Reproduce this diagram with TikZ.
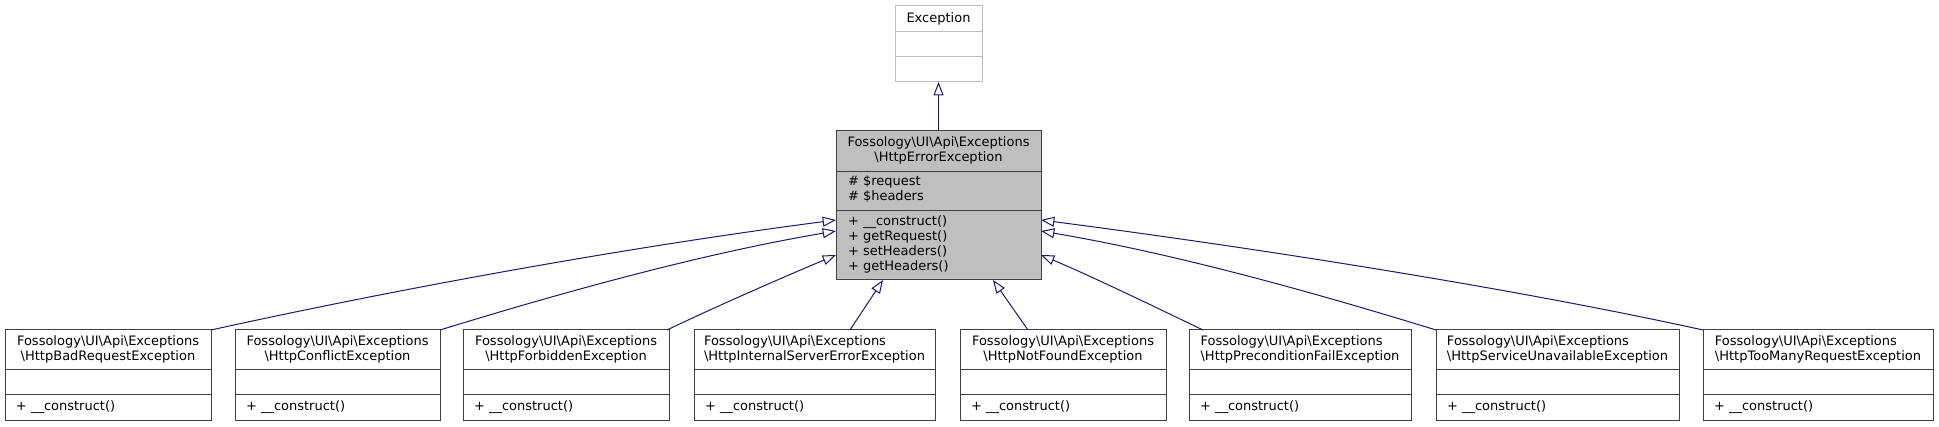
\documentclass[tikz,border=0pt]{standalone}
\usepackage{fontspec}
\setmainfont{DejaVu Sans}
\usetikzlibrary{arrows.meta,calc}
\definecolor{edgeblue}{HTML}{191970}
\definecolor{boxgray}{HTML}{BFBFBF}
\definecolor{darkline}{HTML}{404040}
\definecolor{lightline}{HTML}{BFBFBF}
\newcommand\bs{\textbackslash}
\newcommand\subcls[5]{%
  \node[clsbox, minimum width={(#3-#2)*0.75pt}, minimum height={91*0.75pt}] (#1) at (#2,330) {};
  \draw[sepline] (#2,370) -- (#3,370) (#2,395) -- (#3,395);
  \node[txt, align=#4] (#1-t) at ({(#2+#3)/2},349) {Fossology\bs UI\bs Api\bs Exceptions\\\bs #5};
  \node[txt, anchor=west] (#1-m) at (#2+11,407.5) {+ \_\_construct()};
}
\begin{document}
\begin{tikzpicture}[x=0.75pt,y=-0.75pt,
  font=\fontsize{9.75pt}{11.25pt}\selectfont,
  clsbox/.style={draw=darkline, line width=0.75pt, fill=white, inner sep=0pt, outer sep=0pt, anchor=north west, rectangle},
  sepline/.style={draw=darkline, line width=0.75pt},
  txt/.style={inner sep=0pt, outer sep=0pt, text=black},
  inh/.style={draw=edgeblue, line width=0.75pt, -{Triangle[open, length=10pt, width=7.5pt]}}]
\useasboundingbox (0,0) rectangle (1939,427);
% Exception
\node[clsbox, draw=lightline, minimum width={87*0.75pt}, minimum height={76*0.75pt}] (exc) at (895,6) {};
\draw[lightline, line width=0.75pt] (895,32) -- (982,32) (895,57) -- (982,57);
\node[txt] (exc-t) at (938.5,19) {Exception};
% HttpErrorException
\node[clsbox, fill=boxgray, minimum width={205*0.75pt}, minimum height={149*0.75pt}] (err) at (836,131) {};
\draw[sepline] (836,172) -- (1041,172) (836,211) -- (1041,211);
\node[txt, align=center] (err-t) at (938.5,150.5) {Fossology\bs UI\bs Api\bs Exceptions\\\bs HttpErrorException};
\node[txt, align=left, anchor=west] (err-a) at (848,189.5) {\# \$request\\\# \$headers};
\node[txt, align=left, anchor=west] (err-m) at (848,244.5) {+ \_\_construct()\\+ getRequest()\\+ setHeaders()\\+ getHeaders()};
% subclasses
\subcls{b1}{5}{211}{center}{HttpBadRequestException}
\subcls{b2}{235}{440}{center}{HttpConflictException}
\subcls{b3}{463}{669}{center}{HttpForbiddenException}
\subcls{b4}{694}{935}{left}{HttpInternalServerErrorException}
\subcls{b5}{960}{1166}{center}{HttpNotFoundException}
\subcls{b6}{1189}{1411}{left}{HttpPreconditionFailException}
\subcls{b7}{1436}{1679}{left}{HttpServiceUnavailableException}
\subcls{b8}{1703}{1933}{left}{HttpTooManyRequestException}
% edges
\draw[inh] (err.north) -- (exc.south);
\draw[inh] (b1.north east) .. controls +(200,-44) and +(-200,26) .. ($(err.north west)+(0,89)$);
\draw[inh] (b2.north east) .. controls +(130,-40) and +(-130,22) .. ($(err.north west)+(0,100)$);
\draw[inh] ($(b3.north east)+(-2,0)$) .. controls +(50,-24) and +(-50,21) .. ($(err.north west)+(0,124)$);
\draw[inh] ($(b4.north west)+(156,0)$) -- ($(err.south west)+(47,0)$);
\draw[inh] ($(b5.north west)+(68,0)$) -- ($(err.south west)+(157,0)$);
\draw[inh] ($(b6.north west)+(14,0)$) .. controls +(-50,-24) and +(50,21) .. ($(err.north east)+(0,124)$);
\draw[inh] (b7.north west) .. controls +(-130,-40) and +(130,22) .. ($(err.north east)+(0,100)$);
\draw[inh] (b8.north west) .. controls +(-200,-44) and +(200,26) .. ($(err.north east)+(0,89)$);
\end{tikzpicture}
\end{document}
